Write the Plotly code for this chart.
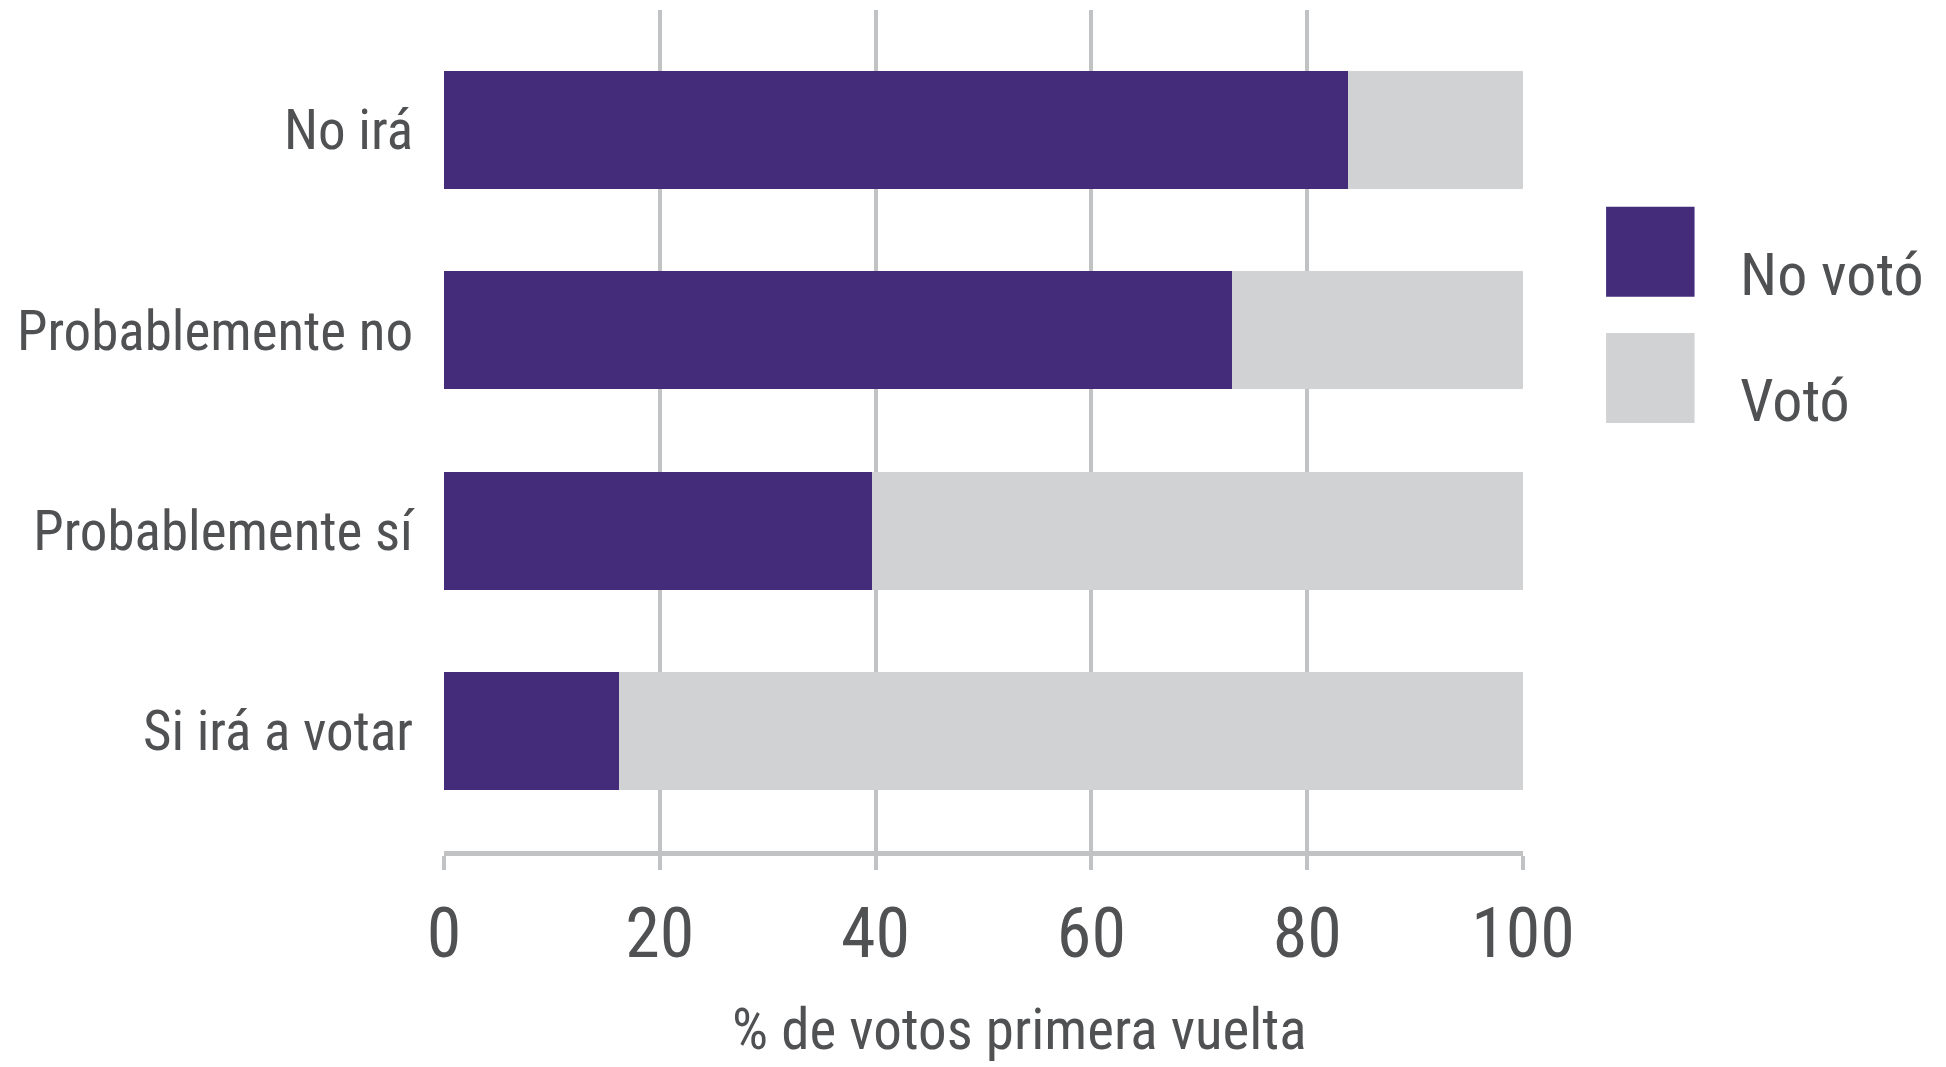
import plotly.graph_objects as go

# Survey answer: intention to vote in the second round
categorias = ["No irá", "Probablemente no", "Probablemente sí", "Si irá a votar"]
# Share (%) of each group that did / did not vote in the first round
no_voto = [83.8, 73.0, 39.7, 16.2]
voto = [round(100 - v, 1) for v in no_voto]

series = ["No votó", "Votó"]
colores = ["#442c7a", "#d1d2d4"]
ticks_x = [0, 20, 40, 60, 80, 100]
titulo_x = "% de votos primera vuelta"

FUENTE = "Liberation Sans Narrow, Roboto Condensed, Lato, sans-serif"
GRIS_TEXTO = "#505153"
GRIS_LINEA = "#c1c2c4"

fig = go.Figure()
for nombre, valores, color in zip(series, [no_voto, voto], colores):
    fig.add_trace(go.Bar(
        name=nombre, x=valores, y=categorias, orientation="h",
        marker=dict(color=color, line=dict(width=0)),
        width=0.59, showlegend=False,
    ))

# Legend drawn as large swatches with labels on the right
for i, (nombre, color) in enumerate(zip(series, colores)):
    top = 0.766 - i * 0.150
    fig.add_shape(type="rect", xref="paper", yref="paper",
                  x0=1.077, x1=1.159, y0=top - 0.107, y1=top,
                  fillcolor=color, line=dict(width=0), layer="above")
    fig.add_annotation(xref="paper", yref="paper", x=1.199, y=top - 0.080,
                       text=nombre, showarrow=False, xanchor="left", yanchor="middle",
                       font=dict(family=FUENTE, size=60, color=GRIS_TEXTO))

fig.add_annotation(xref="paper", yref="paper", x=0.533, y=-0.212,
                   text=titulo_x, showarrow=False, xanchor="center", yanchor="middle",
                   font=dict(family=FUENTE, size=57, color=GRIS_TEXTO))

fig.update_layout(
    width=1946, height=1067,
    margin=dict(l=444, r=423, t=10, b=216),
    barmode="stack",
    plot_bgcolor="white", paper_bgcolor="white",
    font=dict(family=FUENTE, color=GRIS_TEXTO),
    xaxis=dict(
        range=[0, 100], tickvals=ticks_x, ticktext=[str(t) for t in ticks_x],
        showgrid=True, gridcolor=GRIS_LINEA, gridwidth=4,
        showline=True, linecolor=GRIS_LINEA, linewidth=5,
        ticks="outside", ticklen=14, tickwidth=4, tickcolor=GRIS_LINEA,
        ticklabelstandoff=3,
        tickfont=dict(family=FUENTE, size=70, color=GRIS_TEXTO),
        zeroline=False, fixedrange=True,
    ),
    yaxis=dict(
        categoryorder="array", categoryarray=categorias,
        range=[3.6, -0.6], showgrid=False, zeroline=False, showline=False,
        ticks="", ticklabelstandoff=30,
        tickfont=dict(family=FUENTE, size=55, color=GRIS_TEXTO),
        fixedrange=True,
    ),
)

fig.write_html("out.html")
